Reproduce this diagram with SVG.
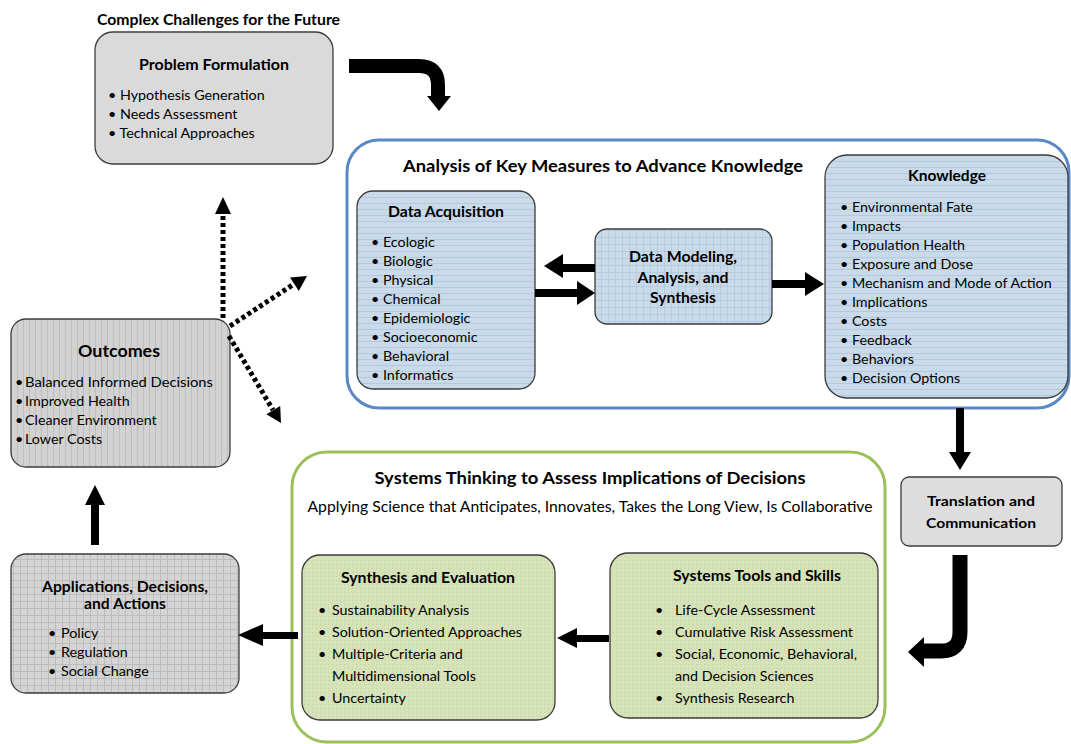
<svg xmlns="http://www.w3.org/2000/svg" width="1071" height="744" viewBox="0 0 1071 744">
<defs>
<pattern id="pBlue" width="6" height="6" patternUnits="userSpaceOnUse"><rect width="6" height="6" fill="#c9dbea"/><path d="M0,5.5H6" stroke="#b5c9dc" stroke-width="1"/></pattern>
<pattern id="pBlueGrid" width="7" height="7" patternUnits="userSpaceOnUse"><rect width="7" height="7" fill="#c9dbea"/><path d="M0,6.5H7M6.5,0V7" stroke="#b7cbde" stroke-width="1"/></pattern>
<pattern id="pGrayV" width="6" height="6" patternUnits="userSpaceOnUse"><rect width="6" height="6" fill="#d2d2d2"/><path d="M5.5,0V6" stroke="#bdbdbd" stroke-width="1"/></pattern>
<pattern id="pGrayGrid" width="7" height="7" patternUnits="userSpaceOnUse"><rect width="7" height="7" fill="#d4d4d4"/><path d="M0,6.5H7M6.5,0V7" stroke="#bcbcbc" stroke-width="1"/></pattern>
<pattern id="pGreen" width="4" height="4" patternUnits="userSpaceOnUse"><rect width="4" height="4" fill="#d6e2b8"/><rect x="0" y="0" width="1" height="1" fill="#c4d2a2"/></pattern>
</defs>
<style>
text{font-family:Lato,"Liberation Sans",Arial,sans-serif;fill:#000;}
.t{font-weight:bold;font-size:15px;text-anchor:middle;}
.i{font-size:14.3px;}
.node{stroke:#3c3c3c;stroke-width:1.3;}
.dot{fill:none;stroke:#000;stroke-width:5;stroke-dasharray:4 3;}
.thick{fill:none;stroke:#000;stroke-width:14;}
</style>

<g id="containers">
<rect id="analysis-frame" x="347" y="140" width="722" height="268" rx="32" fill="#fff" stroke="#5a88c4" stroke-width="3"/>
<rect id="systems-frame" x="292" y="452" width="593" height="290" rx="35" fill="#fff" stroke="#9cbf5a" stroke-width="3"/>
<text x="97" y="25" style="font-weight:bold;font-size:15px" textLength="243" lengthAdjust="spacingAndGlyphs">Complex Challenges for the Future</text>
<text x="603" y="172" style="font-weight:bold;font-size:17px;text-anchor:middle" textLength="400" lengthAdjust="spacingAndGlyphs">Analysis of Key Measures to Advance Knowledge</text>
<text x="590" y="484" style="font-weight:bold;font-size:17px;text-anchor:middle" textLength="431" lengthAdjust="spacingAndGlyphs">Systems Thinking to Assess Implications of Decisions</text>
<text x="590" y="512" style="font-size:14.5px;text-anchor:middle" textLength="565" lengthAdjust="spacingAndGlyphs">Applying Science that Anticipates, Innovates, Takes the Long View, Is Collaborative</text>
</g>

<g id="problem-formulation">
<rect class="node" x="95" y="32" width="238" height="132" rx="18" fill="#dadada"/>
<text class="t" x="214" y="70" textLength="150" lengthAdjust="spacingAndGlyphs">Problem Formulation</text>
<text class="i" x="108" y="100">• Hypothesis Generation</text>
<text class="i" x="108" y="119">• Needs Assessment</text>
<text class="i" x="108" y="138">• Technical Approaches</text>
</g>

<g id="data-acquisition">
<rect class="node" x="357" y="191" width="178" height="198" rx="16" fill="url(#pBlue)"/>
<text class="t" x="446" y="217" textLength="116" lengthAdjust="spacingAndGlyphs">Data Acquisition</text>
<text class="i" x="371" y="247">• Ecologic</text>
<text class="i" x="371" y="266">• Biologic</text>
<text class="i" x="371" y="285">• Physical</text>
<text class="i" x="371" y="304">• Chemical</text>
<text class="i" x="371" y="323">• Epidemiologic</text>
<text class="i" x="371" y="342">• Socioeconomic</text>
<text class="i" x="371" y="361">• Behavioral</text>
<text class="i" x="371" y="380">• Informatics</text>
</g>

<g id="data-modeling">
<rect class="node" x="595" y="229" width="177" height="95" rx="12" fill="url(#pBlueGrid)"/>
<text class="t" x="683" y="262" textLength="108" lengthAdjust="spacingAndGlyphs">Data Modeling,</text>
<text class="t" x="683" y="283" textLength="91" lengthAdjust="spacingAndGlyphs">Analysis, and</text>
<text class="t" x="683" y="303" textLength="66" lengthAdjust="spacingAndGlyphs">Synthesis</text>
</g>

<g id="knowledge">
<rect class="node" x="825" y="155" width="243" height="243" rx="22" fill="url(#pBlue)"/>
<text class="t" x="947" y="181" textLength="78" lengthAdjust="spacingAndGlyphs">Knowledge</text>
<text class="i" x="840" y="212">• Environmental Fate</text>
<text class="i" x="840" y="231">• Impacts</text>
<text class="i" x="840" y="250">• Population Health</text>
<text class="i" x="840" y="269">• Exposure and Dose</text>
<text class="i" x="840" y="288">• Mechanism and Mode of Action</text>
<text class="i" x="840" y="307">• Implications</text>
<text class="i" x="840" y="326">• Costs</text>
<text class="i" x="840" y="345">• Feedback</text>
<text class="i" x="840" y="364">• Behaviors</text>
<text class="i" x="840" y="383">• Decision Options</text>
</g>

<g id="translation">
<rect class="node" x="901" y="477" width="161" height="69" rx="8" fill="#dddddd"/>
<text class="t" x="981" y="506" style="font-size:14px" textLength="108" lengthAdjust="spacingAndGlyphs">Translation and</text>
<text class="t" x="981" y="528" style="font-size:14px" textLength="110" lengthAdjust="spacingAndGlyphs">Communication</text>
</g>

<g id="systems-tools">
<rect class="node" x="610" y="553" width="268" height="165" rx="18" fill="url(#pGreen)"/>
<text class="t" x="757" y="581" textLength="168" lengthAdjust="spacingAndGlyphs">Systems Tools and Skills</text>
<text class="i" x="655" y="615">•</text><text class="i" x="675" y="615">Life-Cycle Assessment</text>
<text class="i" x="655" y="637">•</text><text class="i" x="675" y="637">Cumulative Risk Assessment</text>
<text class="i" x="655" y="659">•</text><text class="i" x="675" y="659" textLength="182" lengthAdjust="spacingAndGlyphs">Social, Economic, Behavioral,</text>
<text class="i" x="675" y="681">and Decision Sciences</text>
<text class="i" x="655" y="703">•</text><text class="i" x="675" y="703">Synthesis Research</text>
</g>

<g id="synthesis-evaluation">
<rect class="node" x="302" y="555" width="253" height="165" rx="18" fill="url(#pGreen)"/>
<text class="t" x="428" y="583" textLength="174" lengthAdjust="spacingAndGlyphs">Synthesis and Evaluation</text>
<text class="i" x="318" y="615">•</text><text class="i" x="332" y="615">Sustainability Analysis</text>
<text class="i" x="318" y="637">•</text><text class="i" x="332" y="637" textLength="190" lengthAdjust="spacingAndGlyphs">Solution-Oriented Approaches</text>
<text class="i" x="318" y="659">•</text><text class="i" x="332" y="659">Multiple-Criteria and</text>
<text class="i" x="332" y="681">Multidimensional Tools</text>
<text class="i" x="318" y="703">•</text><text class="i" x="332" y="703">Uncertainty</text>
</g>

<g id="applications">
<rect class="node" x="11" y="554" width="228" height="139" rx="15" fill="url(#pGrayGrid)"/>
<text class="t" x="125" y="592" textLength="166" lengthAdjust="spacingAndGlyphs">Applications, Decisions,</text>
<text class="t" x="125" y="609" textLength="82" lengthAdjust="spacingAndGlyphs">and Actions</text>
<text class="i" x="48" y="638">•</text><text class="i" x="61" y="638">Policy</text>
<text class="i" x="48" y="657">•</text><text class="i" x="61" y="657">Regulation</text>
<text class="i" x="48" y="676">•</text><text class="i" x="61" y="676">Social Change</text>
</g>

<g id="outcomes">
<rect class="node" x="11" y="319" width="219" height="148" rx="15" fill="url(#pGrayV)"/>
<text class="t" x="119" y="357" style="font-size:17px" textLength="82" lengthAdjust="spacingAndGlyphs">Outcomes</text>
<text class="i" x="15" y="387">•</text><text class="i" x="25" y="387" textLength="188" lengthAdjust="spacingAndGlyphs">Balanced Informed Decisions</text>
<text class="i" x="15" y="406">•</text><text class="i" x="25" y="406">Improved Health</text>
<text class="i" x="15" y="425">•</text><text class="i" x="25" y="425">Cleaner Environment</text>
<text class="i" x="15" y="444">•</text><text class="i" x="25" y="444">Lower Costs</text>
</g>

<g id="connectors">
<path class="thick" d="M349,66 H419 Q438,66 438,85 V97"/>
<polygon points="427,96 451,96 439,111"/>
<rect x="562" y="264" width="33" height="8"/>
<polygon points="563,254 563,278 544,266"/>
<rect x="535" y="289" width="43" height="8"/>
<polygon points="577,281 577,305 595,293"/>
<rect x="772" y="280" width="34" height="8"/>
<polygon points="805,272 805,296 824,284"/>
<rect x="956" y="408" width="8" height="45"/>
<polygon points="949,452 971,452 960,470"/>
<path class="thick" d="M960,555 V632 Q960,651 941,651 H923" style="stroke-width:15"/>
<polygon points="924,637 924,667 908,652"/>
<rect x="576" y="635" width="33" height="7"/>
<polygon points="577,628 577,648 557,638"/>
<rect x="262" y="632" width="36" height="7"/>
<polygon points="263,624 263,646 238,635"/>
<rect x="91" y="504" width="8" height="41"/>
<polygon points="85,505 105,505 95,485"/>
<path class="dot" d="M223,318 V214"/>
<polygon points="215,214 231,214 223,197"/>
<path class="dot" d="M230,326 L294,284"/>
<polygon points="298.8,290.9 290,277.5 307,276"/>
<path class="dot" d="M229,336 L273,410"/>
<polygon points="280.2,406 266.4,414.2 281,423"/>
</g>
</svg>
